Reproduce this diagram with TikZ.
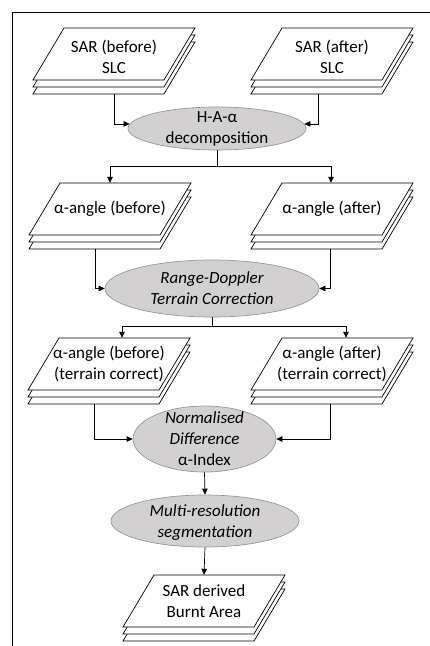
\documentclass[tikz,border=0pt]{standalone}
\usepackage{fontspec}
\setmainfont{Carlito}
\usetikzlibrary{arrows.meta,shapes.geometric}
\definecolor{procfill}{RGB}{210,208,208}
\definecolor{procdraw}{RGB}{150,150,150}
\tikzset{
  stackline/.style={draw=black,fill=white,line width=0.7pt,line join=miter},
  stackbox/.style={rectangle,draw=none,inner sep=0pt,minimum width=131pt,minimum height=66pt},
  stacktext/.style={inner sep=0pt,align=center,font=\fontsize{17}{21}\selectfont},
  proc/.style={ellipse,draw=procdraw,fill=procfill,line width=0.7pt,inner sep=0pt},
  proctext/.style={inner sep=0pt,align=center,font=\fontsize{17}{21}\selectfont},
  arr/.style={-{Triangle[length=6pt,width=5.5pt]},line width=0.7pt},
  pics/datastack/.style 2 args={code={
    \foreach \d in {14,7,0}{\draw[stackline] (-50,-26+\d) -- (81,-26+\d) -- (50,26+\d) -- (-81,26+\d) -- cycle;}
    \node[stackbox] (-box) at (0,7) {};
    \node[stacktext] (-txt) at (0,#2) {#1};
  }},
}
\begin{document}
\begin{tikzpicture}[x=1pt,y=-1pt]
\useasboundingbox (0,0) rectangle (430,646);
% frame
\draw[line width=0.8pt] (430,12) -- (12,12) -- (12,646);

% data stacks
\pic (s1) at (114,54) {datastack={SAR (before)\\SLC}{3}};
\pic (s2) at (332,54) {datastack={SAR (after)\\SLC}{3}};
\pic (s3) at (110,209) {datastack={α-angle (before)}{0}};
\pic (s4) at (332,209) {datastack={α-angle (after)}{0}};
\pic (s5) at (109,364) {datastack={α-angle (before)\\(terrain correct)}{0}};
\pic (s6) at (332,364) {datastack={α-angle (after)\\(terrain correct)}{0}};
\pic (s7) at (204,601) {datastack={SAR derived\\Burnt Area}{0}};

% processes
\node[proc,minimum width=178pt,minimum height=43pt,
  label={[proctext]center:{H-A-α\\decomposition}}] (e1) at (217,128.5) {};
\node[proc,minimum width=214pt,minimum height=57pt,
  label={[proctext]center:{\itshape Range-Doppler\\\itshape Terrain Correction}}] (e2) at (212,288.5) {};
\node[proc,minimum width=143pt,minimum height=66pt,
  label={[proctext]center:{\itshape Normalised\\\itshape Difference\\α-Index}}] (e3) at (204.5,439) {};
\node[proc,minimum width=188pt,minimum height=52pt,
  label={[proctext,yshift=-2pt]center:{\itshape Multi-resolution\\\itshape segmentation}}] (e4) at (205,521) {};

% connectors
\draw[arr] (s1-box.south) |- (e1.177);
\draw[arr] ([xshift=-14pt]s2-box.south) |- (e1.3);
\draw[arr] (e1.south) -- ++(0,16) -| (s3-box.north);
\draw[arr] (e1.south) -- ++(0,16) -| ([xshift=-1pt]s4-box.north);
\draw[arr] ([xshift=-15pt]s3-box.south) |- (e2.west);
\draw[arr] ([xshift=-2pt]s4-box.south) |- (e2.east);
\draw[arr] (e2.south) -- ++(0,9) -| ([xshift=13pt]s5-box.north);
\draw[arr] (e2.south) -- ++(0,9) -| ([xshift=14pt]s6-box.north);
\draw[arr] ([xshift=-15pt]s5-box.south) |- (e3.west);
\draw[arr] ([xshift=-2pt]s6-box.south) |- (e3.east);
\draw[arr] (e3.south) -- (e4.north);
\draw[arr] (e4.south) -- (s7-box.north);
\end{tikzpicture}
\end{document}
